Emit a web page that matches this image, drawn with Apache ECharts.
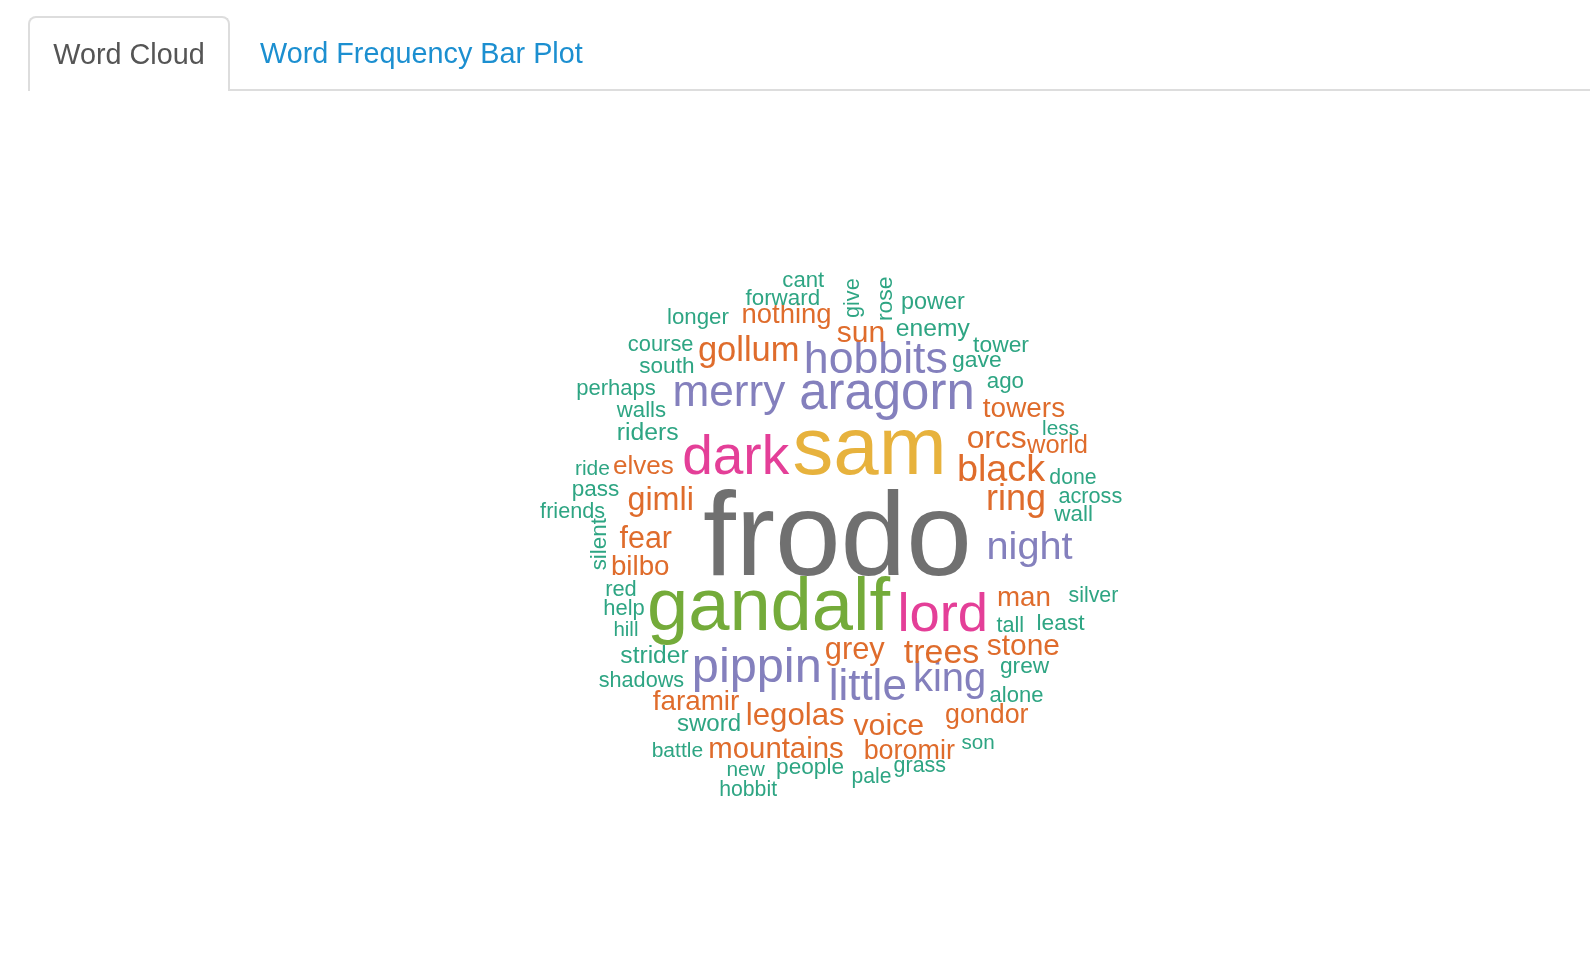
<!DOCTYPE html>
<html>
<head>
<meta charset="utf-8">
<script src="https://cdn.jsdelivr.net/npm/echarts@6/dist/echarts.min.js"></script>
<style>
  html, body { margin: 0; padding: 0; background: #fff; }
  #chart { position: absolute; left: 0; top: 0; width: 1590px; height: 966px; }
  .tabs { position: absolute; left: 0; top: 0; width: 1590px; height: 92px; z-index: 2;
          font-family: "Liberation Sans", Arial, Helvetica, sans-serif; font-size: 28.8px; }
  .tabs .line { position: absolute; left: 28px; right: 0; top: 89px; border-top: 2px solid #dddddd; }
  .tabs .active { position: absolute; left: 28px; top: 16px; width: 202px; height: 75px;
                  border: 2px solid #dddddd; border-bottom: none; border-radius: 8px 8px 0 0;
                  background: #fff; color: #555555; box-sizing: border-box;
                  line-height: 73px; text-align: center; }
  .tabs .link { position: absolute; left: 260px; top: 16px; line-height: 75px; color: #1c8fd0; }
</style>
</head>
<body>
<div class="tabs">
  <div class="line"></div>
  <div class="active">Word Cloud</div>
  <div class="link">Word Frequency Bar Plot</div>
</div>
<div id="chart"></div>
<script>
// words and their counts
var words = ['frodo','sam','gandalf','dark','lord','aragorn','pippin','hobbits','merry','little',
  'king','night','black','ring','gollum','trees','gimli','orcs','legolas','grey',
  'fear','voice','sun','stone','mountains','towers','faramir','bilbo','man','nothing',
  'boromir','gondor','elves','world','riders','enemy','strider','sword','power','rose',
  'gave','tower','least','grew','people','south','pass','wall','silent','ago',
  'forward','longer','cant','walls','perhaps','alone','help','course','red','give',
  'friends','across','shadows','tall','grass','silver','done','hobbit','pale','battle',
  'ride','new','less','son','hill'];
var counts = [1064,699,624,432,426,391,368,328,323,321,
  281,278,259,241,226,220,204,199,193,189,
  185,184,181,180,174,160,159,158,158,155,
  150,149,141,136,128,127,126,121,115,110,
  110,109,109,108,107,106,106,105,104,104,
  104,103,102,102,101,101,100,99,99,98,
  97,97,97,97,95,94,93,93,92,91,
  90,89,88,87,85];
// layout of the cloud in the unit square (as placed by the wordcloud layout)
var posX = [0.528,0.580,0.417,0.364,0.698,0.608,0.398,0.590,0.353,0.577,
  0.709,0.838,0.792,0.816,0.385,0.696,0.243,0.785,0.460,0.556,
  0.219,0.611,0.566,0.828,0.429,0.829,0.300,0.210,0.829,0.446,
  0.644,0.769,0.215,0.883,0.222,0.682,0.233,0.321,0.682,0.606,
  0.753,0.792,0.888,0.830,0.484,0.253,0.138,0.909,0.145,0.799,
  0.440,0.303,0.473,0.212,0.171,0.817,0.184,0.243,0.179,0.553,
  0.101,0.936,0.212,0.807,0.661,0.941,0.908,0.384,0.583,0.270,
  0.133,0.380,0.888,0.755,0.187];
var posY = [0.491,0.634,0.379,0.620,0.366,0.722,0.281,0.778,0.724,0.250,
  0.262,0.474,0.599,0.552,0.791,0.304,0.549,0.650,0.203,0.309,
  0.487,0.186,0.820,0.315,0.148,0.698,0.224,0.442,0.392,0.848,
  0.145,0.203,0.604,0.638,0.659,0.826,0.298,0.189,0.869,0.873,
  0.776,0.800,0.351,0.282,0.118,0.766,0.567,0.526,0.477,0.741,
  0.875,0.844,0.904,0.694,0.730,0.235,0.375,0.801,0.405,0.874,
  0.531,0.556,0.258,0.348,0.122,0.396,0.585,0.082,0.103,0.145,
  0.600,0.114,0.665,0.158,0.340];
var rotated = ['rose','silent','give'];

// Dark2-like palette, picked by normalised frequency
var palette = ['#2ea583','#df6c2c','#8480bd','#e43f98','#74ab3a','#e7b23d','#a6761d','#707070'];

var chart = echarts.init(document.getElementById('chart'));
var maxCount = Math.max.apply(null, counts);

var data = words.map(function (w, i) {
  var nf = counts[i] / maxCount;
  var size = 12 + 106 * nf;
  var rot = rotated.indexOf(w) >= 0;
  return {
    name: w,
    value: [posX[i], posY[i], counts[i]],
    label: {
      fontSize: size,
      color: palette[Math.ceil(palette.length * nf) - 1],
      rotate: rot ? 90 : 0,
      offset: rot ? [0, 0] : [0, 0.06 * size]
    }
  };
});

var option = {
  animation: false,
  grid: { left: 510, top: 220, width: 620, height: 620 },
  xAxis: { type: 'value', min: 0, max: 1, show: false },
  yAxis: { type: 'value', min: 0, max: 1, show: false },
  series: [{
    type: 'scatter',
    symbolSize: 0,
    itemStyle: { opacity: 1 },
    data: data,
    label: {
      show: true,
      position: 'inside',
      formatter: '{b}',
      opacity: 1,
      fontFamily: '"Liberation Sans", Arial, Helvetica, sans-serif',
      align: 'center',
      verticalAlign: 'middle'
    },
    emphasis: { disabled: true }
  }]
};
chart.setOption(option);
</script>
</body>
</html>
